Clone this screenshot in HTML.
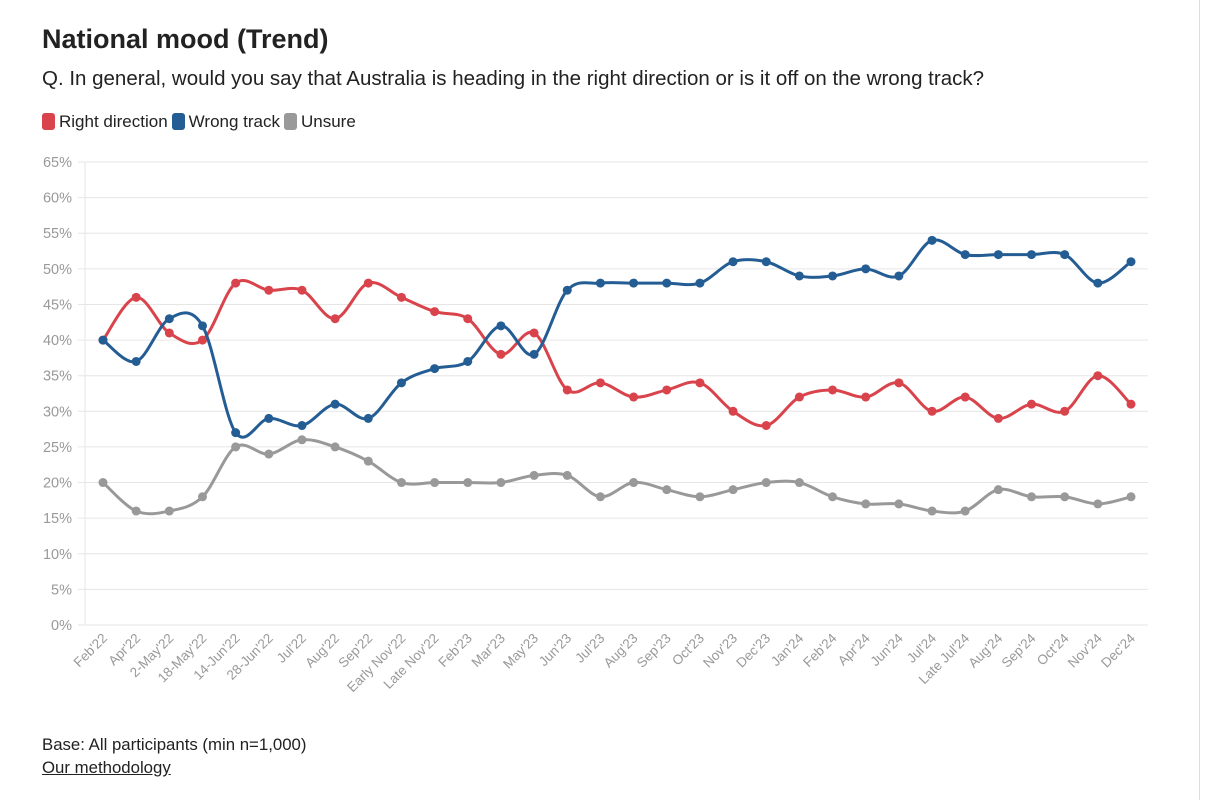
<!DOCTYPE html>
<html><head><meta charset="utf-8"><style>
body{margin:0;background:#fff;font-family:"Liberation Sans",sans-serif;width:1210px;height:800px;overflow:hidden;position:relative}
.t{position:absolute;left:42px;top:24px;font-size:27px;font-weight:bold;color:#222}
.s{position:absolute;left:42px;top:67px;font-size:20.5px;color:#222}
.lg{position:absolute;left:42px;top:112px;font-size:17px;color:#222;display:flex;gap:4px;align-items:center}
.lg span.k{display:inline-block;width:13px;height:17px;border-radius:3px;margin-right:4px;vertical-align:-3px}
.f{position:absolute;left:42px;font-size:16.8px;color:#222}
.edge{position:absolute;left:1199px;top:0;width:1px;height:800px;background:#ddd}
</style></head><body>
<div class="t">National mood (Trend)</div>
<div class="s">Q. In general, would you say that Australia is heading in the right direction or is it off on the wrong track?</div>
<div class="lg">
<span><span class="k" style="background:#d9434b"></span>Right direction</span>
<span><span class="k" style="background:#245d94"></span>Wrong track</span>
<span><span class="k" style="background:#999"></span>Unsure</span>
</div>
<svg id="c" width="1210" height="800" style="position:absolute;left:0;top:0"></svg>
<div class="f" style="top:735px">Base: All participants (min n=1,000)</div>
<div class="f" style="top:758px;text-decoration:underline">Our methodology</div>
<div class="edge"></div>
<script>
const categories=["Feb'22","Apr'22","2-May'22","18-May'22","14-Jun'22","28-Jun'22","Jul'22","Aug'22","Sep'22","Early Nov'22","Late Nov'22","Feb'23","Mar'23","May'23","Jun'23","Jul'23","Aug'23","Sep'23","Oct'23","Nov'23","Dec'23","Jan'24","Feb'24","Apr'24","Jun'24","Jul'24","Late Jul'24","Aug'24","Sep'24","Oct'24","Nov'24","Dec'24"];
const rightDirection=[40,46,41,40,48,47,47,43,48,46,44,43,38,41,33,34,32,33,34,30,28,32,33,32,34,30,32,29,31,30,35,31];
const wrongTrack=[40,37,43,42,27,29,28,31,29,34,36,37,42,38,47,48,48,48,48,51,51,49,49,50,49,54,52,52,52,52,48,51];
const unsure=[20,16,16,18,25,24,26,25,23,20,20,20,20,21,21,18,20,19,18,19,20,20,18,17,17,16,16,19,18,18,17,18];
const yTicks=[0,5,10,15,20,25,30,35,40,45,50,55,60,65];
const svg=document.getElementById('c'),NS='http://www.w3.org/2000/svg';
const X0=103,X1=1131,Y0=625,Y1=162,L=85,R=1148;
const x=i=>X0+(X1-X0)*i/(categories.length-1);
const y=v=>Y0+(Y1-Y0)*v/65;
function mk(t,a){const e=document.createElementNS(NS,t);for(const k in a)e.setAttribute(k,a[k]);svg.appendChild(e);return e;}
yTicks.forEach(v=>{
 const g=mk('line',{x1:L-7,x2:R,y1:y(v),y2:y(v),stroke:'#e6e6e6','stroke-width':1});
 
 
 const t=mk('text',{x:72,y:y(v)+5,'text-anchor':'end','font-size':14.5,fill:'#999','font-family':'Liberation Sans'});
 t.textContent=v+'%';
 
 
});
const ax=mk('line',{x1:L,x2:L,y1:Y1,y2:Y0,stroke:'#e6e6e6'});


categories.forEach((c,i)=>{
 const t=mk('text',{x:x(i)+5,y:Y0+14,'text-anchor':'end','font-size':13.5,fill:'#999','font-family':'Liberation Sans',transform:`rotate(-45 ${x(i)+5} ${Y0+14})`});
 t.textContent=c;
 
 
});
function path(vals){
 const p=vals.map((v,i)=>[x(i),y(v)]);let d=`M${p[0][0]},${p[0][1]}`;
 for(let i=0;i<p.length-1;i++){const a=p[Math.max(0,i-1)],b=p[i],c=p[i+1],e=p[Math.min(p.length-1,i+2)];
 d+=`C${b[0]+(c[0]-a[0])/6},${b[1]+(c[1]-a[1])/6} ${c[0]-(e[0]-b[0])/6},${c[1]-(e[1]-b[1])/6} ${c[0]},${c[1]}`;}
 return d;}
[[unsure,'#999','unsure'],[rightDirection,'#d9434b','right-direction'],[wrongTrack,'#245d94','wrong-track']].forEach(([vals,col,n])=>{
 const l=mk('path',{d:path(vals),fill:'none',stroke:col,'stroke-width':3});
 
 
 vals.forEach((v,i)=>{const c=mk('circle',{cx:x(i),cy:y(v),r:4.5,fill:col});
 
 });
});
</script>
</body></html>
